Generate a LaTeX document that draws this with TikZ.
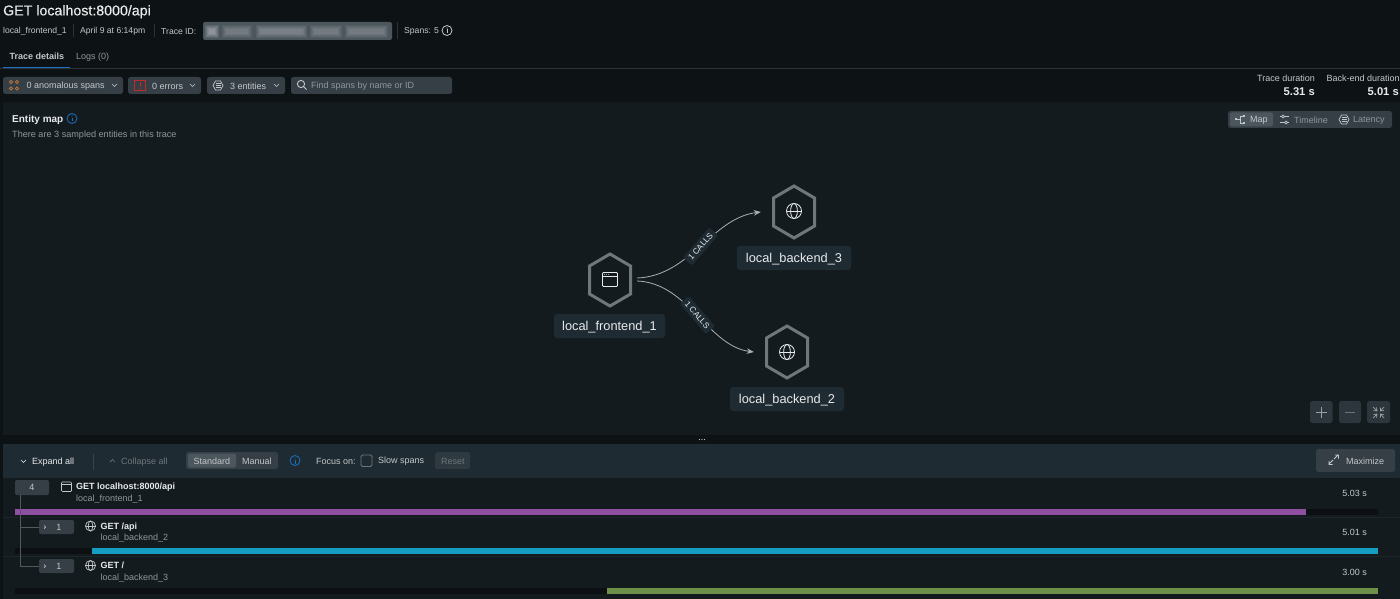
\documentclass[tikz,border=0pt]{standalone}
\usepackage{fontspec}
\setmainfont{Liberation Sans}
\newfontfamily\semi[FakeBold=0.35]{Liberation Sans}
\usetikzlibrary{arrows.meta}
\definecolor{pagebg}{HTML}{0D1214}
\definecolor{panelbg}{HTML}{131B1F}
\definecolor{toolbg}{HTML}{1F2B32}
\definecolor{pillbg}{HTML}{363F46}
\definecolor{pillon}{HTML}{4C565D}
\definecolor{zbtn}{HTML}{2C363C}
\definecolor{lab}{HTML}{1F2B33}
\definecolor{hexc}{HTML}{70777B}
\definecolor{txtw}{HTML}{E8EAEB}
\definecolor{txtm}{HTML}{C4C8CA}
\definecolor{txtd}{HTML}{8F979B}
\definecolor{txtf}{HTML}{6C757A}
\definecolor{rule}{HTML}{2A3338}
\definecolor{rulefaint}{HTML}{1E262B}
\definecolor{treec}{HTML}{525A5E}
\definecolor{sepc}{HTML}{3A444A}
\definecolor{connc}{HTML}{ABB0B2}
\definecolor{zicon}{HTML}{9AA0A3}
\definecolor{track}{HTML}{0C1012}
\definecolor{blueA}{HTML}{1A6FC0}
\definecolor{purp}{HTML}{8F50A3}
\definecolor{cyanb}{HTML}{149FC2}
\definecolor{greenb}{HTML}{6E9149}
\definecolor{orng}{HTML}{C07A3A}
\definecolor{redb}{HTML}{C22A2A}
\tikzset{
  x=1pt,y=-1pt,
  t/.style={inner sep=0pt,anchor=west,yshift=-.7pt,text=txtm,font=\fontsize{9}{10}\selectfont},
  th/.style={t,font=\fontsize{8.6}{10}\selectfont},
  tr/.style={t,anchor=east},
  tb/.style={t,text=txtw,font=\fontsize{9}{10}\selectfont\bfseries},
  entlabel/.style={fill=lab,rounded corners=3pt,inner sep=0pt,text=txtw,minimum height=24pt,text height=10pt,text depth=2pt,font=\fontsize{12.8}{14}\selectfont},
  hexline/.style={draw=hexc,line width=3pt,line join=miter},
  hexbox/.style={inner sep=0pt,minimum height=56pt},
  ico/.style={draw=txtw,line width=.8pt},
  icod/.style={draw=txtm,line width=.7pt},
  conn/.style={draw=connc,line width=.8pt,-{Stealth[length=7pt,width=5.5pt]}},
  calls/.style={fill=lab,rounded corners=2pt,inner sep=0pt,minimum width=40pt,minimum height=12pt,text=txtw,font=\fontsize{8.2}{9}\selectfont},
  pill/.style={fill=pillbg,rounded corners=2.5pt},
  btn/.style={fill=#1,rounded corners=2.5pt},
  badge/.style={fill=pillbg,rounded corners=2pt,inner sep=0pt,text=txtm,font=\fontsize{9}{10}\selectfont},
  treeline/.style={draw=treec,line width=.7pt},
  chev/.style={draw=txtm,line width=.7pt},
}
\newcommand\globe[4][ico]{%
  \draw[#1] (#2,#3) circle [radius=#4pt];
  \draw[#1] (#2,#3) ellipse [x radius=#4*0.45pt,y radius=#4pt];
  \draw[#1] ({#2-#4},#3) -- ({#2+#4},#3);
}
\newcommand\hexagon[2]{%
  \begin{scope}[shift={(#1,#2)}]
    \draw[hexline] (0,-26)--(20.5,-14)--(20.5,14)--(0,26)--(-20.5,14)--(-20.5,-14)--cycle;
  \end{scope}
}
\newcommand\infoi[3]{%
  \draw[draw=#3,line width=.8pt] (#1,#2) circle [radius=5pt];
  \fill[#3] ({#1-.5},{#2-.8}) rectangle ({#1+.5},{#2+3});
  \fill[#3] (#1,{#2-2.4}) circle [radius=.6pt];
}
\begin{document}
\begin{tikzpicture}
\useasboundingbox (0,0) rectangle (1400,599);
\fill[pagebg] (0,0) rectangle (1400,599);

% header
\node[t,text=txtw,font=\fontsize{14.2}{16}\semi] (title) at (3,11) {GET localhost:8000/api};
\node[th] (svc) at (3,31) {local\_frontend\_1};
\draw[rule] (73.5,24)--(73.5,37);
\node[th] (date) at (80,31) {April 9 at 6:14pm};
\draw[rule] (154.5,24)--(154.5,37);
\node[th] (tid) at (161,31) {Trace ID:};
\fill[fill=pillon,rounded corners=2pt] (203,22) rectangle (392,40);
\foreach \a/\b/\o in {207/217/.09,224/250/.05,258/305/.06,312/340/.05,347/386/.05}{
  \foreach \ins in {-2,-1,0,1,2}{
    \fill[white,opacity=\o] (\a+\ins,27+\ins) rectangle (\b-\ins,36-\ins);
  }
}
\draw[rule] (397.5,22)--(397.5,39);
\node[th] (spans) at (404,31) {Spans: 5};
\draw[txtm,line width=.8pt] (447,30.5) circle [radius=5pt];
\fill[txtm] (446.5,29.5) rectangle (447.5,33.5);
\fill[txtm] (447,28) circle [radius=.6pt];

% tabs
\node[t,text=txtm,font=\fontsize{9}{10}\selectfont\bfseries] (tab1) at (9.5,56) {Trace details};
\node[t,text=txtd] (tab2) at (76,56) {Logs (0)};
\draw[rule] (0,68.5)--(1400,68.5);
\fill[blueA] (3,67) rectangle (70,68.5);

% filters
\fill[pill] (3,77) rectangle (123,94);
\fill[pill] (128,77) rectangle (201,94);
\fill[pill] (207,77) rectangle (285,94);
\fill[pill] (291,77) rectangle (452,94);
\foreach \px/\py in {11/82,17/82,11/88.5,17/88.5}{\draw[orng,line width=.8pt] (\px,\py) circle [radius=1.6pt];}
\node[t] (f1) at (26.5,85.5) {0 anomalous spans};
\draw[chev] (112,84)--(114.5,86.5)--(117,84);
\draw[redb,line width=1pt] (134.5,81) rectangle (145.5,90.5);
\fill[redb] (139.5,82.5) rectangle (140.5,87);
\fill[redb] (139.5,88) rectangle (140.5,89);
\node[t] (f2) at (152,85.5) {0 errors};
\draw[chev] (190,84)--(192.5,86.5)--(195,84);
\draw[icod] (213,85.5)--(215.5,81)--(220.5,81)--(223,85.5)--(220.5,90)--(215.5,90)--cycle;
\draw[icod] (215.5,83.5)--(220.5,83.5) (215.5,85.5)--(220.5,85.5) (215.5,87.5)--(220.5,87.5);
\node[t] (f3) at (230,85.5) {3 entities};
\draw[chev] (274,84)--(276.5,86.5)--(279,84);
\draw[icod,line width=.9pt] (301,84) circle [radius=3.6pt] (303.6,86.6)--(306.5,89.5);
\node[t,text=txtd] (f4) at (311,85.5) {Find spans by name or ID};

% durations
\node[tr] (d1) at (1315,78) {Trace duration};
\node[tr,text=txtw,font=\fontsize{11.2}{12}\selectfont\bfseries] (d2) at (1315,91) {5.31 s};
\node[t] (d3) at (1326.5,78) {Back-end duration};
\node[tr,text=txtw,font=\fontsize{11.2}{12}\selectfont\bfseries] (d4) at (1399,91) {5.01 s};

% map panel
\fill[panelbg] (3,102) rectangle (1400,435);
\node[t,text=txtw,font=\fontsize{10}{12}\selectfont\bfseries] (em) at (12,119) {Entity map};
\infoi{72}{118.5}{blueA}
\node[t,text=txtd,font=\fontsize{9.1}{10}\selectfont] (ems) at (12,134) {There are 3 sampled entities in this trace};

% view switch
\fill[pillbg,rounded corners=2.5pt] (1228,111) rectangle (1392,128);
\fill[pillon,rounded corners=2pt] (1230,112.5) rectangle (1273,126.5);
\draw[icod] (1236,119.5)--(1240,119.5) (1240,116)--(1240,123)
  (1240,116)--(1243,116) (1240,123)--(1243,123);
\fill[txtm] (1235,118.5) rectangle (1237,120.5);
\fill[txtm] (1243,115) rectangle (1245,117);
\fill[txtm] (1243,122) rectangle (1245,124);
\node[t] (vm) at (1250,119.5) {Map};
\draw[icod] (1280,116.5)--(1289,116.5) (1280,122.5)--(1289,122.5);
\fill[pillbg] (1283,116.5) circle [radius=1.5pt];
\fill[pillbg] (1286,122.5) circle [radius=1.5pt];
\draw[icod] (1283,116.5) circle [radius=1.5pt] (1286,122.5) circle [radius=1.5pt];
\node[t,text=txtd] (vt) at (1294,119.5) {Timeline};
\draw[icod] (1339,119.5)--(1341.5,115)--(1346.5,115)--(1349,119.5)--(1346.5,124)--(1341.5,124)--cycle;
\draw[icod] (1341.5,117.5)--(1346.5,117.5) (1341.5,119.5)--(1346.5,119.5) (1341.5,121.5)--(1346.5,121.5);
\node[t,text=txtd] (vl) at (1353,119.5) {Latency};

% graph
\hexagon{610}{280}
\node[hexbox,minimum width=54pt] (fe) at (610,280) {};
\hexagon{794}{212}
\node[hexbox,minimum width=66pt] (be3) at (794,212) {};
\hexagon{787}{352}
\node[hexbox,minimum width=66pt] (be2) at (787,352) {};
\draw[ico,rounded corners=1pt] (602.5,272.5) rectangle (617.5,286.5);
\draw[ico] (602.5,276.5)--(617.5,276.5);
\foreach \dx in {604.5,606.5,608.5}{\fill[txtw] (\dx,274.5) circle [radius=.45pt];}
\globe{794}{211}{7.5}
\globe{787}{352}{7.5}
\node[entlabel,minimum width=111pt] (lfe) at (609.5,326) {local\_frontend\_1};
\node[entlabel,minimum width=114pt] (lb3) at (794,258) {local\_backend\_3};
\node[entlabel,minimum width=114pt] (lb2) at (787,399) {local\_backend\_2};
\draw[conn] ([yshift=2pt]fe.east) .. controls (690,276) and (712,218) .. node[pos=.5,calls,rotate=49] (c1) {1 CALLS} (be3.west);
\draw[conn] ([yshift=-1pt]fe.east) .. controls (688,283) and (708,346) .. node[pos=.5,calls,rotate=-49] (c2) {1 CALLS} (be2.west);

% zoom controls
\fill[btn=zbtn] (1310,401) rectangle (1332.5,423);
\fill[btn=zbtn] (1339,401) rectangle (1361,423);
\fill[btn=zbtn] (1367,401) rectangle (1390,423);
\draw[zicon,line width=.8pt] (1316,412.5)--(1327,412.5) (1321.5,407)--(1321.5,418);
\draw[txtf,line width=.8pt] (1345,412.5)--(1355,412.5);
\draw[zicon,line width=.7pt] (1373,407)--(1377,411) (1373.5,410.5)--(1377,411)--(1376.5,407.5)
  (1384,407)--(1380.5,411) (1380.5,407.5)--(1380.5,411)--(1384,410.5)
  (1373,418)--(1377,414) (1373.5,414.5)--(1377,414)--(1376.5,417.5)
  (1384,418)--(1380.5,414) (1380.5,417.5)--(1380.5,414)--(1384,414.5);

% handle
\foreach \hx in {699.5,702,704.5}{\fill[txtm] (\hx,439.5) circle [radius=.7pt];}

% bottom toolbar
\fill[toolbg] (3,444) rectangle (1400,478);
\draw[chev,draw=txtw] (21,460)--(23.5,462.5)--(26,460);
\node[t,text=txtw] (ex) at (32,461) {Expand all};
\draw[sepc,line width=.6pt] (93.5,454)--(93.5,470);
\draw[chev,draw=txtf] (110,462)--(112.5,459.5)--(115,462);
\node[t,text=txtf] (co) at (121,461) {Collapse all};
\fill[pillbg,rounded corners=2.5pt] (186,452) rectangle (278,469);
\fill[pillon,rounded corners=2pt] (188,453.5) rectangle (236,467.5);
\node[t] (st) at (193.5,460.5) {Standard};
\node[t] (ma) at (242,460.5) {Manual};
\infoi{295}{460.5}{blueA}
\node[t] (fo) at (316,461) {Focus on:};
\draw[hexc,line width=.8pt,rounded corners=1.5pt] (361,455) rectangle (372,466.5);
\node[t] (sl) at (378,460.5) {Slow spans};
\fill[pillbg,opacity=.7,rounded corners=2.5pt] (435,452) rectangle (470,469);
\node[t,text=txtf] (re) at (441,461) {Reset};
\fill[pillbg,rounded corners=2.5pt] (1316,449) rectangle (1395,472);
\draw[txtm,line width=.8pt] (1329,464)--(1333,460) (1329,461)--(1329,464.5)--(1332.5,464.5)
  (1334,459)--(1338,455) (1335,455)--(1338.5,455)--(1338.5,458.5);
\node[t] (mx) at (1346,460.5) {Maximize};

% rows
\fill[panelbg] (3,478) rectangle (1400,599);
\draw[rulefaint,line width=.6pt] (3,517.5)--(1400,517.5) (3,556.5)--(1400,556.5);
\fill[track] (15,509) rectangle (1378,515);
\fill[track] (15,548) rectangle (1378,554);
\fill[track] (15,588) rectangle (1378,594);
\fill[purp] (15,509) rectangle (1306,515);
\fill[cyanb] (92,548) rectangle (1378,554);
\fill[greenb] (607,588) rectangle (1378,594);

\coordinate (treetop) at (20.5,495);
\node[badge,minimum width=34pt,minimum height=15pt] (b4) at (32,487.5) {4};
\node[badge,minimum width=35pt,minimum height=14pt] (b1) at (56.5,527) {\hspace{5pt}1};
\node[badge,minimum width=35pt,minimum height=14pt] (b2) at (56.5,566) {\hspace{5pt}1};
\draw[treeline] (treetop) |- (b1.west);
\draw[treeline] (treetop) |- (b2.west);
\draw[chev] (44,525.5)--(45.5,527)--(44,528.5);
\draw[chev] (44,564.5)--(45.5,566)--(44,567.5);

\draw[icod,rounded corners=1pt] (61.5,482) rectangle (71.5,491.5);
\draw[icod] (61.5,484.8)--(71.5,484.8);
\node[tb] (r1a) at (76,486.5) {GET localhost:8000/api};
\node[t,text=txtd] (r1b) at (76,498) {local\_frontend\_1};
\node[tr] (r1t) at (1367,492.5) {5.03 s};

\globe[icod]{90.5}{526}{5}
\node[tb] (r2a) at (100.5,526) {GET /api};
\node[t,text=txtd] (r2b) at (100.5,537.5) {local\_backend\_2};
\node[tr] (r2t) at (1367,532) {5.01 s};

\globe[icod]{90.5}{565.5}{5}
\node[tb] (r3a) at (100.5,565) {GET /};
\node[t,text=txtd] (r3b) at (100.5,577) {local\_backend\_3};
\node[tr] (r3t) at (1367,571.5) {3.00 s};
\end{tikzpicture}
\end{document}
